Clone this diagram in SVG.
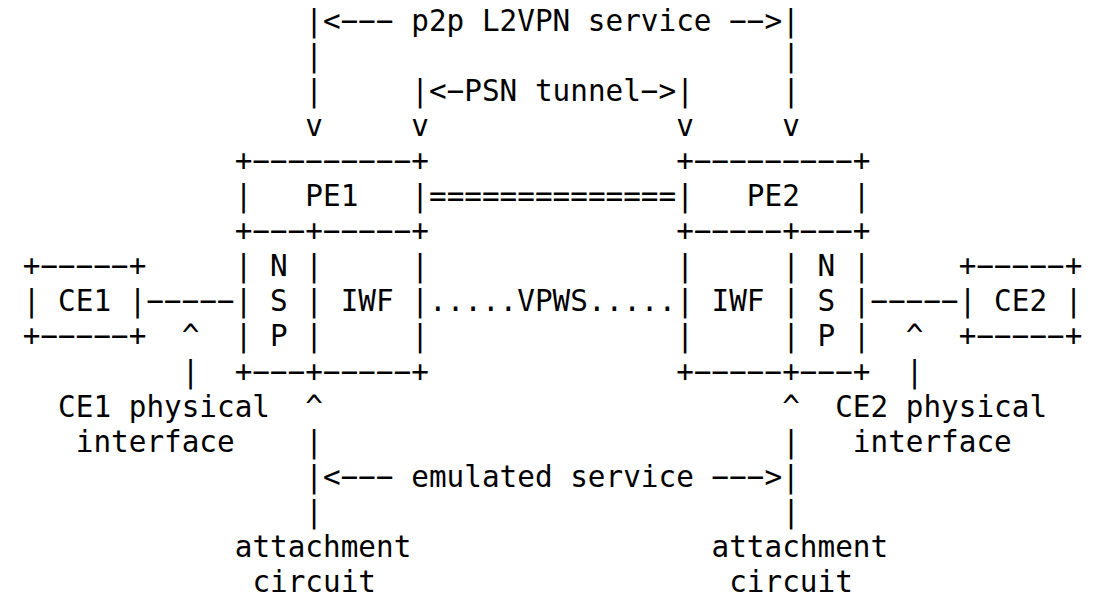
<svg xmlns="http://www.w3.org/2000/svg" width="1097" height="599" viewBox="0 0 1097 599">
<style>
text{font-family:"DejaVu Sans Mono","Liberation Mono",monospace;font-size:29.33px;fill:#000;white-space:pre}
</style>
<rect width="1097" height="599" fill="#fff"/>
<g id="connectors" xml:space="preserve">
<text x="305.36" y="30.5">|&lt;−−− p2p L2VPN service −−&gt;|</text>
<text x="305.36" y="65.6">|</text><text x="782.18" y="65.6">|</text>
<text x="305.36" y="100.7">|</text><text x="411.32" y="100.7">|&lt;−PSN tunnel−&gt;|</text><text x="782.18" y="100.7">|</text>
<text x="305.36" y="135.8">v</text><text x="411.32" y="135.8">v</text><text x="676.22" y="135.8">v</text><text x="782.18" y="135.8">v</text>
<text x="428.98" y="206">==============</text>
<text x="146.42" y="311.3">−−−−−</text>
<text x="428.98" y="311.3">.....VPWS.....</text>
<text x="870.48" y="311.3">−−−−−</text>
<text x="181.74" y="346.4">^</text><text x="905.8" y="346.4">^</text>
<text x="181.74" y="381.5">|</text><text x="905.8" y="381.5">|</text>
<text x="305.36" y="416.6">^</text><text x="782.18" y="416.6">^</text>
<text x="305.36" y="451.7">|</text><text x="782.18" y="451.7">|</text>
<text x="305.36" y="486.8">|&lt;−−− emulated service −−−&gt;|</text>
<text x="305.36" y="521.9">|</text><text x="782.18" y="521.9">|</text>
</g>
<g id="labels" xml:space="preserve">
<text x="58.12" y="416.6">CE1 physical</text>
<text x="835.16" y="416.6">CE2 physical</text>
<text x="75.78" y="451.7">interface</text>
<text x="852.82" y="451.7">interface</text>
<text x="234.72" y="557">attachment</text>
<text x="711.54" y="557">attachment</text>
<text x="252.38" y="592.1">circuit</text>
<text x="729.2" y="592.1">circuit</text>
</g>
<g id="ce1" xml:space="preserve">
<text x="22.8" y="276.2">+−−−−−+</text>
<text x="22.8" y="311.3">| CE1 |</text>
<text x="22.8" y="346.4">+−−−−−+</text>
</g>
<g id="pe1" xml:space="preserve">
<text x="234.72" y="170.9">+−−−−−−−−−+</text>
<text x="234.72" y="206">|   PE1   |</text>
<text x="234.72" y="241.1">+−−−+−−−−−+</text>
<text x="234.72" y="276.2">| N |     |</text>
<text x="234.72" y="311.3">| S | IWF |</text>
<text x="234.72" y="346.4">| P |     |</text>
<text x="234.72" y="381.5">+−−−+−−−−−+</text>
</g>
<g id="pe2" xml:space="preserve">
<text x="676.22" y="170.9">+−−−−−−−−−+</text>
<text x="676.22" y="206">|   PE2   |</text>
<text x="676.22" y="241.1">+−−−−−+−−−+</text>
<text x="676.22" y="276.2">|     | N |</text>
<text x="676.22" y="311.3">| IWF | S |</text>
<text x="676.22" y="346.4">|     | P |</text>
<text x="676.22" y="381.5">+−−−−−+−−−+</text>
</g>
<g id="ce2" xml:space="preserve">
<text x="958.78" y="276.2">+−−−−−+</text>
<text x="958.78" y="311.3">| CE2 |</text>
<text x="958.78" y="346.4">+−−−−−+</text>
</g>
</svg>
